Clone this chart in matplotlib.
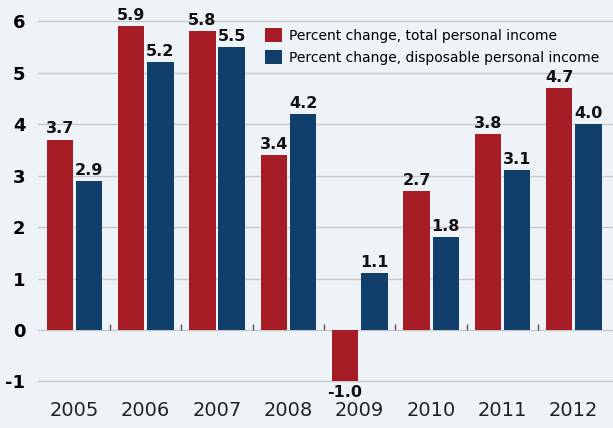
import matplotlib.pyplot as plt
import numpy as np

# Data
years = ['2005', '2006', '2007', '2008', '2009', '2010', '2011', '2012']
total_income = [3.7, 5.9, 5.8, 3.4, -1.0, 2.7, 3.8, 4.7]
disposable_income = [2.9, 5.2, 5.5, 4.2, 1.1, 1.8, 3.1, 4.0]
legend_labels = ['Percent change, total personal income',
                 'Percent change, disposable personal income']

red = '#A61D25'
blue = '#0F3F6A'
bg = '#EEF3F8'

plt.rcParams['axes.unicode_minus'] = False

fig = plt.figure(figsize=(6.13, 4.28), dpi=100, facecolor=bg)
ax = fig.add_axes([38 / 613, 28 / 428, 575 / 613, 400 / 428], facecolor=bg)

x = np.arange(len(years))
w = 0.37
gap = 0.02
b1 = ax.bar(x - w / 2 - gap, total_income, w, color=red, label=legend_labels[0], zorder=3)
b2 = ax.bar(x + w / 2 + gap, disposable_income, w, color=blue, label=legend_labels[1], zorder=3)

# value labels
for bars, vals in [(b1, total_income), (b2, disposable_income)]:
    for bar, v in zip(bars, vals):
        cx = bar.get_x() + bar.get_width() / 2
        if v >= 0:
            ax.text(cx, v + 0.06, f'{v:.1f}', ha='center', va='bottom',
                    fontsize=11.5, fontweight='bold', color='#111111', zorder=4)
        else:
            ax.text(cx, v - 0.06, f'{v:.1f}', ha='center', va='top',
                    fontsize=11.5, fontweight='bold', color='#111111', zorder=4)

# small separators on the zero line between year groups
ax.vlines(x[:-1] + 0.5, 0, 0.12, color='#555555', lw=1, zorder=3)

ax.set_xlim(-0.51, 7.55)
ax.set_ylim(-1.36, 6.41)
ax.set_yticks(range(-1, 7))
ax.yaxis.grid(True, color='#C9C9C9', lw=1, zorder=0)
ax.set_axisbelow(True)
for s in ax.spines.values():
    s.set_visible(False)

ax.set_xticks(x)
ax.set_xticklabels(years, fontsize=14, color='#222222')
ax.tick_params(axis='both', length=0)
ax.tick_params(axis='x', pad=1)
ax.tick_params(axis='y', pad=9, labelsize=13)
for t in ax.get_yticklabels():
    t.set_fontweight('bold')

ax.legend(loc='upper left', bbox_to_anchor=(0.395, 0.93), frameon=False,
          fontsize=10, handlelength=1.2, handleheight=1.2, handletextpad=0.5,
          labelspacing=0.5, borderpad=0, borderaxespad=0)

plt.savefig('out.png', dpi=100, facecolor=bg)
